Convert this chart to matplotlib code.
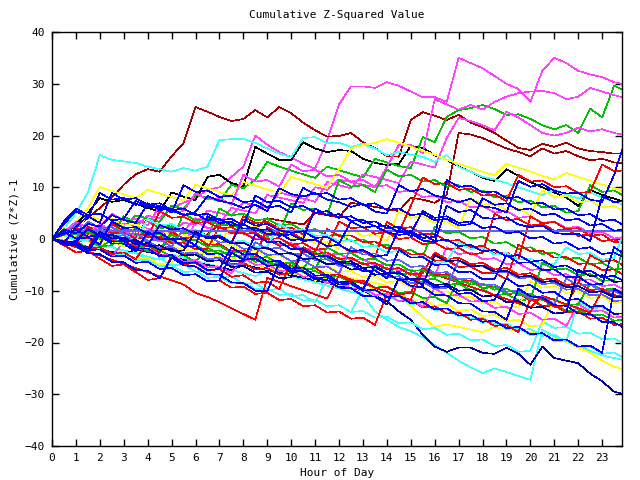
import numpy as np
import matplotlib
matplotlib.use("Agg")
import matplotlib.pyplot as plt

# half-hour samples, 0..24 h
hours = np.arange(49) * 0.5

mag_top = [0, -0.3, 1.0, 0.4, 2.0, 1.4, 3.0,
           2.4, 4.5, 4.0, 6.0, 7.0, 8.0, 9.5,
           10.0, 12.0, 14.0, 20.0, 18.2, 16.8, 15.8,
           14.5, 13.6, 19.0, 26.0, 29.5, 29.5, 29.2,
           30.3, 29.6, 28.5, 27.4, 27.4, 26.5, 35.0,
           34.0, 33.0, 31.5, 30.0, 29.0, 26.5, 32.5,
           35.0, 34.0, 32.5, 31.8, 31.3, 30.3, 29.8]
darkred_top = [0, 1.0, 2.5, 4.0, 6.0, 8.0, 10.5,
               12.5, 13.5, 13.0, 16.0, 18.5, 25.5, 24.6,
               23.6, 22.8, 23.2, 24.9, 23.5, 25.5, 24.3,
               22.5, 21.0, 19.8, 19.9, 20.5, 18.7, 17.6,
               16.0, 15.9, 23.0, 24.5, 23.8, 23.0, 24.0,
               22.5, 21.6, 20.5, 19.0, 17.6, 17.2, 18.4,
               17.8, 18.6, 17.5, 17.0, 16.8, 16.5, 16.5]
black_up = [0, 1.5, 3.0, 5.0, 7.9, 7.2, 7.5,
            6.8, 6.0, 5.3, 9.0, 8.2, 7.5, 12.0,
            12.4, 10.8, 10.2, 17.8, 16.5, 15.3, 15.3,
            18.7, 17.5, 16.8, 17.2, 17.0, 15.5, 14.7,
            14.3, 14.5, 18.0, 17.6, 16.2, 15.3, 14.0,
            13.0, 11.8, 11.2, 13.5, 12.2, 11.0, 10.0,
            9.0, 8.0, 6.4, 9.5, 8.5, 7.8, 7.0]
green_top = [0, 0.8, 0.3, 1.5, 1.0, 3.0, 2.4,
             4.5, 4.0, 3.3, 6.5, 5.8, 8.5, 8.0,
             7.3, 10.5, 9.8, 11.5, 14.9, 14.0, 13.2,
             12.5, 11.8, 14.0, 13.3, 12.6, 11.9, 15.5,
             14.8, 14.1, 13.7, 19.7, 18.7, 23.6, 24.9,
             25.3, 25.9, 25.1, 24.0, 24.1, 23.2, 22.0,
             21.2, 22.0, 20.5, 25.2, 23.5, 29.6, 28.6]
mag_2 = [0, -0.5, -1.0, 0.5, 0.0, -0.5, 1.5,
         1.0, 0.5, 2.5, 2.0, 1.5, 4.0, 3.5,
         3.0, 6.0, 5.5, 5.0, 8.5, 8.0, 7.5,
         7.0, 10.0, 9.5, 11.5, 11.0, 10.5, 10.0,
         13.9, 18.2, 18.2, 16.6, 27.0, 26.0, 25.0,
         25.9, 25.0, 26.5, 27.5, 28.2, 28.5, 28.6,
         28.2, 27.0, 27.5, 29.2, 28.5, 27.8, 27.2]
mag_3 = [0, 0.8, 0.3, -0.2, 1.2, 0.7, 0.2,
         2.5, 2.0, 1.5, 1.0, 3.2, 2.7, 5.5,
         5.0, 4.5, 7.0, 6.5, 6.0, 9.0, 8.4,
         7.8, 7.2, 11.0, 10.4, 9.8, 12.5, 12.0,
         11.4, 10.8, 15.0, 14.4, 13.8, 19.5, 23.4,
         22.8, 22.0, 21.0, 24.6, 23.5, 22.0, 20.5,
         20.0, 20.5, 21.5, 20.8, 21.2, 20.5, 20.0]
darkred_2 = [0, -0.4, -0.8, 0.5, 0.1, -0.3, -0.7,
             1.0, 0.6, 0.2, 2.0, 1.6, 1.2, 0.8,
             3.0, 2.6, 2.2, 1.8, 4.0, 3.6, 3.2,
             2.8, 5.0, 4.6, 4.2, 7.0, 6.6, 6.2,
             5.8, 5.4, 8.0, 7.6, 7.0, 8.5, 20.5,
             20.2, 19.5, 18.5, 17.5, 16.8, 16.0, 17.5,
             16.5, 17.0, 16.0, 15.2, 15.5, 14.8, 14.5]
navy_low = [0, -0.5, -1.0, -1.5, -2.0, -2.5, -3.0,
            -2.0, -2.5, -3.0, -3.5, -4.0, -4.5, -5.0,
            -5.5, -6.0, -5.0, -5.5, -6.0, -6.5, -7.0,
            -7.5, -8.0, -8.5, -9.0, -9.5, -10.0, -11.0,
            -12.0, -14.0, -15.6, -18.5, -20.8, -21.8, -21.0,
            -21.0, -22.0, -22.2, -21.0, -22.2, -24.3, -20.8,
            -23.0, -23.5, -24.0, -26.0, -27.5, -29.5, -30.1]
cyan_low = [0, -0.6, -1.2, -1.8, -1.0, -1.6, -2.2,
            -2.8, -3.4, -4.0, -3.0, -3.6, -4.2, -4.8,
            -5.4, -6.0, -6.6, -7.2, -6.0, -6.6, -7.2,
            -7.8, -8.4, -9.0, -9.6, -10.2, -10.8, -14.0,
            -15.6, -17.0, -17.8, -19.0, -20.5, -22.0, -23.5,
            -24.8, -25.9, -25.0, -25.7, -26.5, -27.2, -17.5,
            -18.9, -19.8, -20.7, -21.6, -22.5, -23.0, -23.5]
yellow_low = [0, 0.5, 0.0, -0.5, -1.0, -0.5, -1.0,
              -1.5, -2.0, -2.5, -1.5, -2.0, -2.5, -3.0,
              -3.5, -4.0, -3.0, -3.5, -4.0, -4.5, -5.0,
              -5.5, -6.0, -6.5, -7.0, -7.5, -8.0, -8.5,
              -9.0, -11.0, -13.0, -15.0, -17.0, -16.5, -17.0,
              -17.5, -18.0, -17.0, -17.5, -17.6, -18.0, -18.5,
              -19.3, -19.9, -21.0, -22.0, -23.5, -24.7, -25.3]
red_low = [0, -0.8, -1.6, -2.4, -3.2, -4.0, -4.8,
           -5.6, -6.4, -7.2, -8.0, -8.8, -10.4, -11.2,
           -12.2, -13.4, -14.5, -15.6, -7.5, -8.3, -9.1,
           -9.9, -10.7, -11.5, -7.0, -7.8, -8.6, -9.4,
           -10.2, -11.0, -11.8, -6.0, -6.8, -7.6, -8.4,
           -9.2, -10.0, -10.8, -11.6, -12.4, -13.2, -11.0,
           -11.8, -12.6, -13.4, -14.2, -10.0, -10.8, -11.6]
cyan_up = [0, 2.0, 5.0, 9.0, 16.2, 15.3, 15.0,
           14.7, 14.0, 13.5, 13.0, 13.7, 13.2, 14.0,
           19.1, 19.3, 19.3, 18.6, 17.5, 16.5, 15.8,
           19.5, 19.7, 18.5, 18.6, 17.8, 18.4, 17.5,
           16.2, 16.8, 16.3, 15.9, 14.9, 16.2, 13.9,
           13.0, 12.0, 11.5, 10.8, 10.0, 9.2, 8.5,
           9.5, 8.6, 7.8, 9.0, 8.0, 7.2, 6.5]
yellow_up = [0, 1.0, 3.5, 6.0, 10.0, 9.3, 8.6,
             7.9, 9.5, 8.8, 8.1, 7.4, 10.5, 9.8,
             9.1, 8.4, 11.0, 10.3, 9.6, 8.9, 12.0,
             11.3, 10.6, 9.9, 13.5, 17.5, 18.2, 18.6,
             19.3, 18.6, 17.8, 17.0, 16.3, 15.3, 14.5,
             13.8, 13.0, 12.3, 14.5, 13.8, 13.0, 12.2,
             11.5, 12.8, 12.0, 11.2, 10.5, 9.8, 9.0]
flat_mid = [0, 1.5, 1.5, 1.5, 1.5, 1.5, 1.5,
            1.5, 1.5, 1.5, 1.5, 1.5, 1.5, 1.5,
            1.5, 1.5, 1.5, 1.5, 1.5, 1.5, 1.5,
            1.5, 1.5, 1.5, 1.5, 1.5, 1.5, 1.5,
            1.5, 1.5, 1.5, 1.5, 1.5, 1.5, 1.5,
            1.5, 1.5, 1.5, 1.5, 1.5, 1.5, 1.5,
            1.5, 1.5, 1.5, 1.5, 1.5, 1.5, 1.5]

# the dense bundle around zero
b01 = [0, 1.8, 1.1, 2.9, 2.4, 4.6, 3.7,
       3.1, 6.8, 5.9, 5.5, 4.6, 5.2, 8.3,
       7.4, 6.9, 6.0, 6.6, 5.4, 9.8, 8.7,
       8.2, 8.9, 7.6, 7.1, 6.2, 6.8, 5.3,
       4.9, 10.4, 9.2, 9.7, 8.4, 7.9, 7.1,
       7.8, 6.3, 6.0, 5.1, 11.2, 10.1, 10.6,
       9.3, 8.8, 8.9, 7.6, 7.2, 12.4, 19.6]
b02 = [0, -0.7, -0.4, 1.9, 0.8, 0.9, -0.2,
       -0.6, -1.4, 2.7, 1.8, 2.1, 0.9, 0.4,
       0.7, -0.8, 3.8, 2.6, 2.9, 1.7, 1.2,
       1.5, 0.2, 0.4, -0.9, 3.4, 2.2, 2.5,
       1.3, 0.8, 1.1, -0.3, -0.6, 6.4, 5.2,
       5.6, 4.1, 3.9, 4.2, 2.8, 2.3, 2.6,
       1.2, 0.9, 1.0, -0.4, 8.3, 7.1, 7.4]
b03 = [0, -0.9, 2.2, 1.0, 1.3, -0.2, -0.4,
       -1.5, -1.2, -2.7, 1.4, 0.1, 0.5, -1.1,
       -1.0, -2.4, -2.2, -3.5, 2.3, 1.0, 1.3,
       -0.1, -0.2, -1.4, -1.1, -2.6, -2.4, -3.7,
       3.3, 2.0, 2.3, 0.9, 1.0, -0.4, -0.2,
       -1.6, -1.3, -2.8, -2.6, -3.9, 4.4, 3.0,
       3.3, 1.9, 2.1, 0.6, 0.9, -0.6, -0.4]
b04 = [0, -0.8, -0.4, -1.9, -1.6, -0.2, -1.4,
       -1.1, -2.4, -2.2, -3.4, -3.1, -4.5, -1.7,
       -2.9, -2.6, -3.9, -3.6, -4.9, -4.6, -5.9,
       -5.7, -2.6, -3.9, -3.7, -4.9, -4.6, -5.9,
       -5.6, -6.9, -6.6, -7.9, -7.7, -8.9, -8.6,
       -9.9, -9.7, -10.9, -10.6, -11.9, -11.6, -12.9,
       -12.7, -13.9, -13.6, -14.8, -14.6, -15.8, -15.5]
b05 = [0, -1.0, -1.1, -2.5, 0.9, -0.5, -0.4,
       -1.9, -1.8, -3.3, -3.1, -4.7, -4.5, -6.0,
       -5.8, -1.6, -3.0, -2.9, -4.4, -4.2, -5.7,
       -5.5, -7.1, -6.9, -8.4, -8.2, -9.8, -5.1,
       -6.6, -6.4, -7.9, -7.7, -9.3, -9.1, -10.6,
       -10.4, -12.0, -11.8, -7.6, -9.1, -8.9, -10.4,
       -10.2, -11.8, -11.6, -13.1, -12.9, -14.5, -14.3]
b06 = [0, -0.9, -0.8, -2.2, -2.0, -3.3, -0.6,
       -2.0, -1.8, -3.2, -3.0, -4.4, -4.1, -5.5,
       -5.3, -6.6, -3.6, -5.0, -4.8, -6.2, -6.0,
       -7.3, -7.1, -8.5, -8.3, -9.6, -9.4, -10.8,
       -10.6, -12.0, -11.7, -13.1, -9.5, -11.0, -10.8,
       -12.1, -11.9, -13.3, -13.1, -14.5, -14.2, -15.6,
       -15.4, -16.8, -12.6, -14.0, -13.8, -15.2, -14.9]
b07 = [0, 0.8, -0.3, -0.2, 1.9, 0.7, 0.9,
       -0.4, 3.9, 2.6, 2.9, 1.6, 1.8, 0.5,
       0.8, -0.6, -0.3, -1.6, -1.4, 2.9, 1.6,
       1.9, 0.6, 0.8, -0.5, -0.2, -1.5, -1.3,
       -2.6, -2.3, -3.6, -3.3, -4.6, -4.4, -0.6,
       -1.9, -1.7, -3.0, -2.7, -4.0, -3.8, -5.1,
       -4.8, -1.6, -2.9, -2.7, -4.0, -3.7, 2.4]
b08 = [0, 0.9, -0.3, -0.2, -1.6, -1.4, -2.8,
       -2.6, -4.0, -3.7, -5.1, -4.9, -6.3, -6.1,
       -7.5, -7.2, -8.7, -8.5, -9.9, -9.6, -11.1,
       -10.8, -12.3, -7.6, -9.0, -8.8, -10.2, -9.9,
       -11.4, -11.1, -12.6, -12.3, -13.8, -13.5, -15.0,
       -14.7, -16.2, -15.9, -17.4, -17.1, -18.6, -18.3,
       -19.8, -19.5, -21.0, -20.7, -22.2, -21.9, -23.2]
b09 = [0, 1.3, 0.1, 3.4, 2.1, 2.3, 0.9,
       1.1, -0.3, -0.1, -1.5, 1.9, 0.5, 0.7,
       -0.7, -0.5, -1.9, -1.7, -3.1, -2.9, -4.3,
       -4.1, -5.5, -5.3, -6.7, -1.6, -3.0, -2.8,
       -4.2, -4.0, -5.4, -5.2, -6.6, -6.4, -7.8,
       -7.6, -9.0, -8.8, -10.2, -10.0, -11.4, -11.2,
       -12.6, -7.6, -9.0, -8.8, -10.2, -10.0, -11.3]
b10 = [0, -0.8, -0.6, -1.9, 2.4, 1.1, 1.3,
       0.1, 0.3, 5.4, 4.1, 4.3, 3.1, 3.3,
       2.0, 2.3, 1.0, 1.2, -0.1, 0.2, -1.1,
       -0.8, -2.1, -1.8, 3.4, 2.1, 2.3, 1.0,
       1.3, 0.0, 0.3, -1.0, -0.7, -2.0, -1.7,
       -3.0, -2.7, 4.9, 3.6, 3.9, 2.6, 2.9,
       1.6, 1.9, 0.6, 0.9, -0.4, -0.1, -1.3]
b11 = [0, 1.9, 0.7, 0.9, -0.3, 2.9, 1.6,
       1.9, 0.6, 0.9, -0.4, 4.9, 3.6, 3.9,
       2.6, 2.9, 1.6, 1.9, 0.6, 0.9, 6.9,
       5.6, 5.9, 4.6, 11.4, 10.1, 10.4, 9.1,
       13.4, 12.1, 12.4, 11.1, 11.4, 10.1, 10.4,
       9.1, 9.4, 8.1, 8.4, 7.1, 7.4, 6.1,
       6.4, 5.1, 5.4, 10.4, 9.1, 9.4, 8.1]
b12 = [0, -1.1, -1.3, -2.8, -2.9, -4.4, -4.5,
       -6.0, -6.1, -7.6, -3.6, -5.1, -5.3, -6.8,
       -6.9, -8.4, -8.5, -10.0, -10.1, -4.6, -6.1,
       -6.3, -7.8, -7.9, -9.4, -9.5, -11.0, -11.1,
       -12.6, -7.6, -9.1, -9.3, -10.8, -10.9, -12.4,
       -12.5, -14.0, -14.1, -15.6, -9.6, -11.1, -11.3,
       -12.8, -12.9, -14.4, -14.5, -16.0, -16.1, -17.4]
b13 = [0, 0.8, 0.6, 0.9, -0.4, -0.1, -1.4,
       2.9, 1.6, 1.9, 0.6, 0.9, -0.4, -0.1,
       -1.4, 3.4, 2.1, 2.4, 1.1, 1.4, 0.1,
       0.4, -0.9, -0.6, -1.9, 1.9, 0.6, 0.9,
       -0.4, 5.4, 4.1, 4.4, 3.1, 3.4, 2.1,
       7.9, 6.6, 6.9, 5.6, 5.9, 4.6, 9.4,
       8.1, 8.4, 7.1, 7.4, 6.1, 6.4, 5.1]
b14 = [0, 3.4, 5.9, 4.6, 4.9, 3.6, 3.9,
       7.4, 6.1, 6.4, 5.1, 10.4, 9.1, 9.4,
       8.1, 8.4, 7.1, 7.4, 6.1, 6.4, 5.1,
       9.9, 8.6, 8.9, 7.6, 7.9, 6.6, 6.9,
       5.6, 5.9, 4.6, 4.9, 3.6, 3.9, 2.6,
       2.9, 7.9, 6.6, 6.9, 5.6, 5.9, 4.6,
       4.9, 3.6, 3.9, 2.6, 2.9, 1.6, 1.9]
b15 = [0, -0.9, -0.8, -2.2, -2.0, -3.4, -3.2,
       -4.6, -4.4, -5.8, -5.6, -7.0, -6.8, -8.2,
       -8.0, -9.4, -9.2, -10.6, -10.4, -11.8, -11.6,
       -13.0, -12.8, -14.2, -14.0, -15.4, -15.2, -16.6,
       -10.6, -12.0, -11.8, -13.2, -13.0, -14.4, -14.2,
       -15.6, -15.4, -16.8, -16.6, -18.0, -11.6, -13.0,
       -12.8, -14.2, -14.0, -15.4, -15.2, -16.6, -16.4]
b16 = [0, 1.0, 1.8, 0.5, 0.6, -0.9, -0.9,
       -2.4, 1.4, -0.1, 0.0, -1.5, -1.4, -2.9,
       -2.8, -4.3, -4.2, 0.9, -0.6, -0.5, -2.0,
       -1.9, -3.4, -3.3, -4.8, -4.7, -6.2, -6.1,
       -7.6, -2.1, -3.6, -3.5, -5.0, -4.9, -6.4,
       -6.3, -7.8, -7.7, -3.1, -4.6, -4.5, -6.0,
       -5.9, -7.4, -7.3, -8.8, -8.7, -1.6, -3.1]
b17 = [0, -0.8, -0.7, -2.0, -1.8, -3.1, -2.9,
       -4.2, -4.0, -5.3, -5.1, -6.4, -6.2, -7.5,
       -7.3, -8.6, -8.4, -9.7, -9.5, -10.8, -10.6,
       -11.9, -11.7, -13.0, -12.8, -14.1, -9.7, -11.0,
       -10.8, -12.1, -11.9, -13.2, -13.0, -14.3, -14.1,
       -15.4, -15.2, -16.5, -16.3, -17.6, -17.4, -18.7,
       -18.5, -19.8, -12.1, -13.4, -13.2, -14.5, -14.3]
b18 = [0, 0.8, -0.4, -0.2, -1.4, -1.2, 1.9,
       0.6, 0.8, -0.4, -0.2, -1.4, -1.2, -2.4,
       -2.2, -3.4, -3.2, -4.4, -4.2, -5.4, -5.2,
       -6.4, -6.2, -7.4, -7.2, -8.4, -8.2, -9.4,
       -9.2, -10.4, -10.2, -11.4, -11.2, -12.4, -7.6,
       -8.8, -8.6, -9.8, -9.6, -10.8, -10.6, -11.8,
       -11.6, -12.8, -12.6, -8.6, -9.8, -9.6, -10.8]
b19 = [0, 1.3, 0.1, 0.3, 2.9, 1.6, 1.8,
       0.5, 0.8, -0.5, -0.3, -1.5, 3.4, 2.1,
       2.3, 1.1, 1.3, 0.0, 0.3, -1.0, -0.8,
       -2.0, -1.8, -3.1, -2.8, -4.1, -3.9, -5.1,
       -4.9, -6.2, -5.9, -7.2, -7.0, -1.6, -2.9,
       -2.6, -3.9, -3.7, -4.9, -4.7, -6.0, -5.7,
       -7.0, -6.8, -8.0, -7.8, -9.1, -8.8, -10.0]
b20 = [0, 1.4, 3.3, 2.1, 2.4, 4.9, 3.6,
       3.9, 2.6, 6.4, 5.1, 5.4, 8.9, 7.6,
       7.9, 6.6, 12.4, 11.1, 11.4, 10.1, 14.4,
       13.1, 13.4, 12.1, 12.4, 11.1, 11.4, 10.1,
       10.4, 9.1, 9.4, 8.1, 8.4, 7.1, 7.4,
       6.1, 6.4, 5.1, 5.4, 4.1, 4.4, 3.1,
       3.4, 2.1, 2.4, 1.1, 1.4, 0.1, 0.4]
b21 = [0, -0.8, 2.4, 4.4, 3.1, 8.9, 7.6,
       7.9, 6.6, 6.9, 5.6, 5.9, 4.6, 4.9,
       3.6, 3.9, 2.6, 8.4, 7.1, 7.4, 6.1,
       6.4, 5.1, 5.4, 4.1, 4.4, 3.1, 3.4,
       2.1, 2.4, 1.1, 5.4, 4.1, 4.4, 3.1,
       3.4, 2.1, 2.4, 1.1, 1.4, 0.1, 0.4,
       -0.9, -0.6, -1.9, -1.6, -2.9, -2.6, -3.8]
b22 = [0, -0.8, -0.6, -1.9, -1.6, -2.9, -2.6,
       -3.9, -0.6, -1.9, -1.6, -2.9, -2.6, -3.9,
       -3.6, -4.9, -4.6, -5.9, -5.6, -6.9, -6.6,
       -1.6, -2.9, -2.6, -3.9, -3.6, -4.9, -4.6,
       -5.9, -5.6, -6.9, -6.6, -2.6, -3.9, -3.6,
       -4.9, -4.6, -5.9, -5.6, -6.9, -6.6, -7.9,
       -7.6, -8.9, -8.6, -3.1, -4.4, -4.1, -5.4]
b23 = [0, -0.9, -0.8, -2.2, -2.0, -3.4, -3.2,
       -4.6, -4.4, -5.8, -5.6, -7.0, -6.8, -8.2,
       -8.0, -2.6, -4.0, -3.8, -5.2, -5.0, -6.4,
       -6.2, -7.6, -7.4, -8.8, -8.6, -10.0, -9.8,
       -11.2, -11.0, -12.4, -12.2, -13.6, -13.4, -14.8,
       -14.6, -16.0, -15.8, -17.2, -17.0, -18.4, -18.2,
       -19.6, -19.4, -20.8, -20.6, -22.0, -9.6, -11.0]
b24 = [0, -0.8, -0.6, -1.9, -1.6, -2.9, -2.6,
       -3.9, -3.6, -4.9, -4.6, -1.6, -2.9, -2.6,
       -3.9, -3.6, -4.9, -4.6, -5.9, -5.6, -6.9,
       -6.6, -7.9, -7.6, -8.9, -8.6, -9.9, -9.6,
       -10.9, -10.6, -11.9, -11.6, -12.9, -12.6, -13.9,
       -13.6, -14.9, -14.6, -15.9, -15.6, -16.9, -16.6,
       -11.6, -12.9, -12.6, -13.9, -13.6, -14.9, -14.6]
b25 = [0, 0.9, -0.3, 2.4, 1.1, 1.3, -0.1,
       0.1, 3.9, 2.6, 2.8, 1.5, 1.7, 0.4,
       0.6, -0.7, 4.4, 3.1, 3.3, 2.0, 2.2,
       0.9, 5.9, 4.6, 4.8, 3.5, 3.7, 2.4,
       2.6, 1.3, 6.4, 11.9, 10.6, 10.8, 9.5,
       9.7, 8.4, 8.6, 7.3, 12.4, 11.1, 11.3,
       10.0, 10.2, 8.9, 9.1, 14.4, 13.1, 13.3]
b26 = [0, 1.3, 0.1, 0.2, -1.1, 2.9, 1.6,
       1.7, 0.4, 0.5, -0.8, -0.7, -2.0, -1.9,
       2.4, 1.1, 1.2, -0.1, 0.0, -1.3, -1.2,
       -2.5, -2.4, 1.9, 0.6, 0.7, -0.6, -0.5,
       -1.8, -1.7, -3.0, -2.9, -4.2, -4.1, -5.4,
       -5.3, -6.6, -6.5, -7.8, -1.1, -2.4, -2.3,
       -3.6, -3.5, -4.8, -4.7, -6.0, -5.9, -7.2]
b27 = [0, -0.8, -0.6, 1.9, 0.6, 0.8, -0.4,
       -0.2, -1.4, -1.2, -2.4, -2.2, 1.4, 0.1,
       0.3, -0.9, -0.7, -1.9, -1.7, -2.9, -2.7,
       -3.9, -3.7, -4.9, -4.7, -5.9, -5.7, -6.9,
       -6.7, -7.9, -7.7, -8.9, -3.1, -4.3, -4.1,
       -5.3, -5.1, -6.3, -6.1, -7.3, -7.1, -8.3,
       -8.1, -9.3, -9.1, -10.3, -10.1, -11.3, -11.1]
b28 = [0, 0.8, 2.9, 1.6, 1.8, 0.5, 0.7,
       -0.6, -0.4, -1.7, -1.5, -2.8, -2.6, -3.9,
       -3.7, -5.0, -4.8, -0.6, -1.9, -1.7, -3.0,
       -2.8, -4.1, -3.9, -5.2, -5.0, -6.3, -6.1,
       -7.4, -7.2, -8.5, -8.3, -9.6, -9.4, -4.1,
       -5.4, -5.2, -6.5, -6.3, -7.6, -7.4, -8.7,
       -8.5, -9.8, -9.6, -10.9, -10.7, -12.0, -11.8]
b29 = [0, -0.8, -0.6, 1.4, 0.1, 0.3, -1.0,
       -0.8, -2.1, -1.9, 0.9, -0.4, -0.2, -1.5,
       -1.3, -2.6, -2.4, -3.7, -3.5, -4.8, -4.6,
       -5.9, -5.7, -1.6, -2.9, -2.7, -4.0, -3.8,
       -5.1, -4.9, -6.2, -6.0, -7.3, -7.1, -8.4,
       -8.2, -9.5, -9.3, -10.6, -10.4, -11.7, -4.6,
       -5.9, -5.7, -7.0, -6.8, -8.1, -7.9, 0.4]
b30 = [0, 1.4, 0.1, 0.3, -1.0, 3.4, 2.1,
       2.3, 1.0, 1.2, -0.1, 0.1, -1.2, 4.4,
       3.1, 3.3, 2.0, 2.2, 0.9, 1.1, -0.2,
       0.0, 5.9, 4.6, 4.8, 3.5, 3.7, 2.4,
       2.6, 1.3, 1.5, 0.2, 0.4, 11.4, 10.1,
       10.3, 9.0, 9.2, 7.9, 8.1, 6.8, 7.0,
       5.7, 5.9, 4.6, 4.8, 3.5, 3.7, 2.4]
b31 = [0, -1.2, -2.6, -2.3, -3.8, -5.2, -4.9,
       -6.4, -7.9, -7.6, -3.4, -4.9, -4.6, -6.1,
       -5.8, -7.3, -7.0, -8.5, -8.2, -9.7, -4.4,
       -5.9, -5.6, -7.1, -6.8, -8.3, -8.0, -9.5,
       -9.2, -10.7, -10.4, -5.6, -7.1, -6.8, -8.3,
       -8.0, -9.5, -9.2, -10.7, -10.4, -11.9, -11.6,
       -13.1, -12.8, -8.4, -9.9, -9.6, -11.1, -10.8]
b32 = [0, 2.9, 5.4, 4.1, 8.9, 7.6, 7.9,
       6.6, 6.9, 5.6, 5.9, 4.6, 4.9, 3.6,
       3.9, 2.6, 2.9, 1.6, 1.9, 0.6, 0.9,
       -0.4, -0.1, -1.4, -1.1, -2.4, -2.1, -3.4,
       -3.1, 1.9, 0.6, 0.9, -0.4, -0.1, -1.4,
       -1.1, -2.4, -2.1, -3.4, -3.1, -4.4, -4.1,
       -5.4, -5.1, -6.4, -6.1, -7.4, -7.1, -8.4]
b33 = [0, 1.1, 2.9, 1.6, 1.9, 0.6, 4.4,
       3.1, 3.4, 2.1, 2.4, 1.1, 1.4, 0.1,
       5.9, 4.6, 4.9, 3.6, 3.9, 2.6, 2.9,
       1.6, 1.9, 0.6, 0.9, -0.4, -0.1, -1.4,
       -1.1, -2.4, -2.1, -3.4, 2.4, 1.1, 1.4,
       0.1, 0.4, -0.9, -0.6, -1.9, -1.6, -2.9,
       -2.6, -3.9, -3.6, -4.9, -4.6, -5.9, -5.6]
b34 = [0, 2.4, 1.1, 4.9, 3.6, 3.9, 2.6,
       2.9, 1.6, 1.9, 0.6, 0.9, -0.4, -0.1,
       -1.4, -1.1, -2.4, -2.1, -3.4, -3.1, -4.4,
       -4.1, -5.4, -5.1, -6.4, -6.1, -7.4, -7.1,
       -8.4, -8.1, -9.4, -9.1, -10.4, -10.1, -11.4,
       -11.1, -12.4, -12.1, -13.4, -13.1, -8.1, -9.4,
       -9.1, -10.4, -10.1, -11.4, -11.1, -12.4, -12.1]
b35 = [0, -0.9, -0.7, -2.0, 1.4, 0.1, 0.3,
       -1.0, -0.8, -2.1, -1.9, -3.2, -3.0, -4.3,
       -4.1, -5.4, -5.2, -6.5, -6.3, -7.6, -7.4,
       -2.1, -3.4, -3.2, -4.5, -4.3, -5.6, -5.4,
       -6.7, -6.5, -7.8, -7.6, -8.9, -8.7, -10.0,
       -9.8, -11.1, -10.9, -12.2, -12.0, -13.3, -13.1,
       -14.4, -14.2, -5.9, -7.2, -7.0, -8.3, -8.1]
b36 = [0, -0.9, -0.7, -2.0, -1.8, -3.1, -2.9,
       -4.2, -4.0, -5.3, -5.1, -6.4, -6.2, -7.5,
       -7.3, -8.6, -8.4, -9.7, -9.5, -10.8, -10.6,
       -11.9, -11.7, -13.0, -12.8, -14.1, -13.9, -15.2,
       -15.0, -16.3, -16.1, -17.4, -17.2, -18.5, -18.3,
       -19.6, -19.4, -20.7, -20.5, -21.8, -21.6, -15.9,
       -17.2, -17.0, -18.3, -18.1, -19.4, -19.2, -20.5]

RED, GREEN, BLUE, MAG, CYAN = "#ff0000", "#00c000", "#0000ff", "#ff40ff", "#40ffff"
DRED, YEL, BLK, SLATE, NAVY = "#a00000", "#ffff00", "#000000", "#6060ff", "#0000a0"

series = [
    (mag_top, MAG), (darkred_top, DRED), (black_up, BLK), (green_top, GREEN),
    (mag_2, MAG), (mag_3, MAG), (darkred_2, DRED), (cyan_up, CYAN),
    (yellow_up, YEL), (cyan_low, CYAN), (yellow_low, YEL), (navy_low, NAVY),
    (b04, GREEN), (b08, CYAN), (b17, CYAN), (b36, CYAN), (b24, YEL), (b34, YEL),
    (b15, RED), (b06, MAG), (b18, GREEN), (b33, GREEN), (b19, MAG), (b20, MAG),
    (b11, GREEN), (b13, YEL), (b25, RED), (b03, RED), (b10, RED), (b22, RED),
    (b26, RED), (b31, RED), (red_low, RED), (b07, CYAN), (b29, GREEN),
    (b09, SLATE), (b28, SLATE), (flat_mid, SLATE), (b27, NAVY), (b35, NAVY),
    (b21, BLUE), (b14, BLUE), (b32, BLUE), (b16, BLUE), (b12, BLUE), (b05, BLUE),
    (b23, BLUE), (b02, BLUE), (b30, BLUE), (b01, BLUE),
]

plt.rcParams["font.family"] = "DejaVu Sans Mono"
fig = plt.figure(figsize=(6.4, 4.8), dpi=100)
ax = fig.add_axes([52 / 640, 1 - 446 / 480, 570 / 640, 414 / 480])

for vals, col in series:
    n = min(len(vals), len(hours))
    ax.plot(hours[:n], vals[:n], color=col, lw=0.45, antialiased=False)

ax.set_xlim(0, 23.83)
ax.set_ylim(-40, 40)
ax.set_xticks(range(24))
ax.set_yticks(range(-40, 41, 10))
ax.tick_params(direction="in", top=True, right=True, length=5, width=1,
               labelsize=8, pad=5)
for sp in ax.spines.values():
    sp.set_linewidth(1)

ax.set_title("Cumulative Z-Squared Value", fontsize=8, pad=10)
ax.set_xlabel("Hour of Day", fontsize=8, labelpad=4)
ax.set_ylabel("Cumulative (Z*Z)-1", fontsize=8, labelpad=4)

fig.savefig("out.png", dpi=100)
